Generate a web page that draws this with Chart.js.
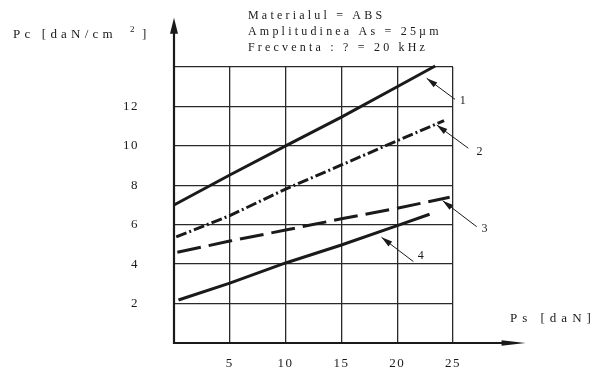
<!DOCTYPE html>
<html><head><meta charset="utf-8">
<script src="https://cdn.jsdelivr.net/npm/chart.js@4/dist/chart.umd.min.js"></script>
<style>html,body{margin:0;padding:0;background:#fff}#wrap{width:593px;height:369px;position:relative}</style>
</head><body><div id="wrap"><canvas id="c"></canvas></div>
<script>
// ---- data ----
const xTickValues = [0,5,10,15,20,25];
const yTickValues = [0,2,4,6,8,10,12,14];
const curve1X = [0,5,10,15,20,23.4];
const curve1Y = [7.0,8.52,10.0,11.46,13.0,14.05];
const curve2X = [0.2,5,10,15,20,24.2];
const curve2Y = [5.38,6.46,7.81,9.03,10.26,11.28];
const curve3X = [0.3,5,10,15,20,24.7];
const curve3Y = [4.6,5.17,5.73,6.30,6.84,7.39];
const curve4X = [0.4,5,10,15,20,22.9];
const curve4Y = [2.18,3.04,4.06,4.97,5.95,6.53];
const curveNames = ['1','2','3','4'];
// leader arrows (data coordinates): tip on curve, tail near number
const leaderTipX = [22.64,23.54,24.07,18.6];
const leaderTipY = [13.43,11.06,7.22,5.36];
const leaderTailX = [25.18,26.37,27.12,21.45];
const leaderTailY = [12.36,9.88,5.9,4.13];
const labelX = [25.6,27.1,27.55,21.85];
const labelY = [12.3,9.7,5.8,4.4];
const headerLines = ['Materialul = ABS','Amplitudinea As = 25µm','Frecventa : ? = 20 kHz'];
const yTitle = 'Pc [daN/cm';
const yTitleSup = '2';
const yTitleEnd = ']';
const xTitle = 'Ps [daN]';
const xMin = 0, xMax = 25, yMin = 0, yMax = 14;
const xArrowEnd = 31.5, yArrowEnd = 16.5;

const pts = (xs, ys) => xs.map((x,i)=>({x:x, y:ys[i]}));
const FONT = "'Liberation Serif', 'Times New Roman', serif";
const INK = '#1a1a1a';

const decor = {
  id:'decor',
  beforeDraw(chart){ chart.ctx.letterSpacing = '1.5px'; },
  afterDraw(chart){
    const ctx = chart.ctx, xs = chart.scales.x, ys = chart.scales.y;
    ctx.save();
    ctx.letterSpacing = '0px';
    const x0 = xs.getPixelForValue(0), y0 = ys.getPixelForValue(0);
    const xe = xs.getPixelForValue(xArrowEnd), ye = ys.getPixelForValue(yArrowEnd);
    ctx.strokeStyle = INK; ctx.fillStyle = INK;
    // axes
    ctx.lineWidth = 2.2;
    ctx.beginPath(); ctx.moveTo(x0-1, y0); ctx.lineTo(xe-20, y0); ctx.stroke();
    ctx.beginPath(); ctx.moveTo(xe, y0); ctx.lineTo(xe-24, y0-2.8); ctx.lineTo(xe-24, y0+2.8); ctx.closePath(); ctx.fill();
    ctx.beginPath(); ctx.moveTo(x0, y0+1); ctx.lineTo(x0, ye+12); ctx.stroke();
    ctx.beginPath(); ctx.moveTo(x0, ye); ctx.lineTo(x0-4, ye+16); ctx.lineTo(x0+4, ye+16); ctx.closePath(); ctx.fill();
    // leaders
    ctx.lineWidth = 1;
    for (let i=0;i<leaderTipX.length;i++){
      const tx = xs.getPixelForValue(leaderTipX[i]), ty = ys.getPixelForValue(leaderTipY[i]);
      const sx = xs.getPixelForValue(leaderTailX[i]), sy = ys.getPixelForValue(leaderTailY[i]);
      ctx.beginPath(); ctx.moveTo(sx,sy); ctx.lineTo(tx,ty); ctx.stroke();
      const a = Math.atan2(ty-sy, tx-sx), L = 11, W = 3;
      const bx = tx - L*Math.cos(a), by = ty - L*Math.sin(a);
      ctx.beginPath(); ctx.moveTo(tx,ty);
      ctx.lineTo(bx + W*Math.sin(a), by - W*Math.cos(a));
      ctx.lineTo(bx - W*Math.sin(a), by + W*Math.cos(a));
      ctx.closePath(); ctx.fill();
      ctx.font = '12px ' + FONT; ctx.textAlign='left'; ctx.textBaseline='middle';
      ctx.fillText(curveNames[i], xs.getPixelForValue(labelX[i]), ys.getPixelForValue(labelY[i]));
    }
    // header
    ctx.textBaseline = 'alphabetic'; ctx.textAlign='left';
    ctx.font = '12px ' + FONT; ctx.letterSpacing = '3.2px';
    const hb = [19,35,51];
    headerLines.forEach((t,i)=>ctx.fillText(t, 248, hb[i]));
    // axis titles
    ctx.font = '13px ' + FONT; ctx.letterSpacing = '4.2px';
    ctx.fillText(yTitle, 13, 38);
    ctx.font = '9px ' + FONT; ctx.letterSpacing = '0px';
    ctx.fillText(yTitleSup, 130, 32);
    ctx.font = '13px ' + FONT;
    ctx.fillText(yTitleEnd, 142, 38);
    ctx.letterSpacing = '5px';
    ctx.fillText(xTitle, 510, 322);
    ctx.restore();
  }
};

new Chart(document.getElementById('c'), {
  type:'line',
  data:{ datasets:[
    {label:curveNames[0], data:pts(curve1X,curve1Y), borderColor:INK, borderWidth:3, pointRadius:0, borderCapStyle:'butt'},
    {label:curveNames[1], data:pts(curve2X,curve2Y), borderColor:INK, borderWidth:3, pointRadius:0, borderDash:[11,3,2,3]},
    {label:curveNames[2], data:pts(curve3X,curve3Y), borderColor:INK, borderWidth:3, pointRadius:0, borderDash:[24,8]},
    {label:curveNames[3], data:pts(curve4X,curve4Y), borderColor:INK, borderWidth:3, pointRadius:0}
  ]},
  options:{
    responsive:true, maintainAspectRatio:false, animation:false,
    clip:false,
    layout:{padding:{top:67,right:140,left:0,bottom:0}},
    plugins:{legend:{display:false}, tooltip:{enabled:false}},
    elements:{line:{tension:0}},
    scales:{
      x:{type:'linear', min:xMin, max:xMax,
         afterBuildTicks(s){ s.ticks = xTickValues.map(v=>({value:v})); },
         afterFit(s){ s.height = 26; },
         grid:{color:'#2a2a2a', lineWidth:1.3, drawTicks:true, tickLength:9, tickColor:'rgba(0,0,0,0)'},
         border:{display:false},
         ticks:{padding:4, color:INK, font:{family:FONT, size:13},
                callback:(v)=> v===0 ? '' : String(v), maxRotation:0, autoSkip:false}
      },
      y:{type:'linear', min:yMin, max:yMax,
         afterBuildTicks(s){ s.ticks = yTickValues.map(v=>({value:v})); },
         afterFit(s){ s.width = 174; },
         grid:{color:'#2a2a2a', lineWidth:1.3, drawTicks:true, tickLength:33, tickColor:'rgba(0,0,0,0)'},
         border:{display:false},
         ticks:{padding:2, color:INK, font:{family:FONT, size:13},
                callback:(v)=> (v===0||v===14) ? '' : String(v), autoSkip:false}
      }
    }
  },
  plugins:[decor]
});
</script></body></html>
